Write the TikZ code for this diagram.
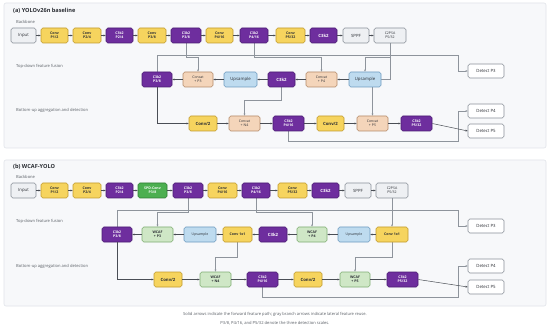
\documentclass[tikz,border=0pt]{standalone}
\usepackage{fontspec}
\setmainfont{Open Sans}
\usetikzlibrary{arrows.meta}
\pgfdeclarelayer{bg}
\pgfsetlayers{bg,main}
\definecolor{cpurp}{HTML}{6E2E9E}
\definecolor{cpurpd}{HTML}{4A1C72}
\definecolor{cyel}{HTML}{F6D45E}
\definecolor{cyeld}{HTML}{C29B2C}
\definecolor{cgray}{HTML}{EEF0F3}
\definecolor{cgrayd}{HTML}{8A9099}
\definecolor{cpeach}{HTML}{F4D5BA}
\definecolor{cpeachd}{HTML}{B48A68}
\definecolor{cblue}{HTML}{BEDBEF}
\definecolor{cblued}{HTML}{6E9CC0}
\definecolor{cwcaf}{HTML}{CFE7C6}
\definecolor{cwcafd}{HTML}{7FAE72}
\definecolor{cspd}{HTML}{4CAF50}
\definecolor{cspdd}{HTML}{2F7D33}
\definecolor{cpanel}{HTML}{F7F8FA}
\definecolor{cpaneld}{HTML}{E1E4E9}
\definecolor{cdark}{HTML}{4A4E55}
\definecolor{clat}{HTML}{8E949C}
\definecolor{ctext}{HTML}{2A2D33}
\definecolor{clabel}{HTML}{5A5F66}
\newcommand\smallf{\fontsize{3.5}{4.2}\selectfont}
\newcommand\bigf{\fontsize{4.3}{5}\selectfont}
\tikzset{
  box/.style={draw, rounded corners=1.8pt, line width=0.55pt, inner sep=0pt,
    minimum height=15pt, align=center, font=\smallf, text=ctext},
  mw/.style={minimum width=#1pt},
  one/.style={font=\bigf},
  bld/.style={execute at begin node=\bfseries},
  purp/.style={box, bld, fill=cpurp, draw=cpurpd, text=white},
  yel/.style={box, bld, fill=cyel, draw=cyeld, text=ctext},
  gbox/.style={box, fill=cgray, draw=cgrayd},
  peach/.style={box, fill=cpeach, draw=cpeachd},
  blue/.style={box, fill=cblue, draw=cblued},
  wcaf/.style={box, bld, fill=cwcaf, draw=cwcafd},
  spd/.style={box, bld, fill=cspd, draw=cspdd, text=white},
  det/.style={box, one, fill=white, draw=cgrayd, minimum height=14pt, minimum width=36pt},
  fwd/.style={draw=cdark, line width=0.5pt, -{Stealth[length=2.3pt,width=1.9pt]}},
  lat/.style={draw=clat, line width=0.5pt, -{Stealth[length=2.3pt,width=1.9pt]}},
  ptitle/.style={anchor=west, inner sep=0pt, font=\bfseries\fontsize{5.6}{6.5}\selectfont, text=ctext},
  rlabel/.style={anchor=west, inner sep=0pt, font=\fontsize{4.1}{5}\selectfont, text=clabel},
  captxt/.style={inner sep=0pt, font=\fontsize{4.1}{5}\selectfont, text=clabel}
}
\begin{document}
\begin{tikzpicture}[x=1pt,y=-1pt]
\useasboundingbox (0,0) rectangle (550,329);
\begin{pgfonlayer}{bg}
  \fill[white] (0,0) rectangle (550,329);
  \draw[fill=cpanel, draw=cpaneld, line width=0.6pt, rounded corners=2pt] (4,3) rectangle (546,148);
  \draw[fill=cpanel, draw=cpaneld, line width=0.6pt, rounded corners=2pt] (4,160) rectangle (546,306);
\end{pgfonlayer}

% ---------------- panel (a) ----------------
\node[ptitle] (tA) at (13,11) {(a) YOLOv26n baseline};
\node[rlabel] (bbA) at (16,22) {Backbone};
\node[rlabel] (tdA) at (16,66) {Top-down feature fusion};
\node[rlabel] (buA) at (16,110) {Bottom-up aggregation and detection};

\node[gbox, one, mw=25] (inA) at (23.5,35.5) {Input};
\node[yel, mw=27] (c1A) at (54.5,35.5) {Conv\\P1/2};
\node[yel, mw=28] (c2A) at (87,35.5) {Conv\\P2/4};
\node[purp, mw=27] (k1A) at (119.5,35.5) {C3k2\\P2/4};
\node[yel, mw=28] (c3A) at (152,35.5) {Conv\\P3/8};
\node[purp, mw=30] (k2A) at (186,35.5) {C3k2\\P3/8};
\node[yel, mw=27] (c4A) at (219.5,35.5) {Conv\\P4/16};
\node[purp, mw=28] (k3A) at (254,35.5) {C3k2\\P4/16};
\node[yel, mw=29] (c5A) at (290.5,35.5) {Conv\\P5/32};
\node[purp, one, mw=27] (k4A) at (323.5,35.5) {C3k2};
\node[gbox, one, mw=26] (spA) at (356,35.5) {SPPF};
\node[gbox, mw=32] (psA) at (390,35.5) {C2PSA\\P5/32};

\node[purp, mw=30] (k5A) at (157,79.5) {C3k2\\P3/8};
\node[peach, mw=30] (caP3) at (198,79.5) {Concat\\+ P3};
\node[blue, one, mw=33] (up1A) at (240.5,79.5) {Upsample};
\node[purp, one, mw=27] (k6A) at (281.5,79.5) {C3k2};
\node[peach, mw=31] (caP4) at (321.5,79.5) {Concat\\+ P4};
\node[blue, one, mw=32] (up2A) at (365,79.5) {Upsample};

\node[yel, one, mw=28] (cv1A) at (203,123.5) {Conv/2};
\node[peach, mw=31] (caN4) at (244.5,123.5) {Concat\\+ N4};
\node[purp, mw=31] (k7A) at (288.5,123.5) {C3k2\\P4/16};
\node[yel, one, mw=27] (cv2A) at (330.5,123.5) {Conv/2};
\node[peach, mw=31] (caP5) at (372.5,123.5) {Concat\\+ P5};
\node[purp, mw=31] (k8A) at (416.5,123.5) {C3k2\\P5/32};

\node[det] (dP3A) at (486,71) {Detect P3};
\node[det] (dP4A) at (486,111) {Detect P4};
\node[det] (dP5A) at (486,131) {Detect P5};

\foreach \a/\b in {inA/c1A,c1A/c2A,c2A/k1A,k1A/c3A,c3A/k2A,k2A/c4A,c4A/k3A,k3A/c5A,c5A/k4A,k4A/spA,spA/psA,
  up2A/caP4,caP4/k6A,k6A/up1A,up1A/caP3,caP3/k5A,
  cv1A/caN4,caN4/k7A,k7A/cv2A,cv2A/caP5,caP5/k8A}
  \draw[fwd] (\a) -- (\b);
\draw[fwd] (k5A.south) |- (cv1A.west);
\draw[fwd] (k8A.east) -- (dP5A.west);
\begin{pgfonlayer}{bg}
  \draw[lat] (k2A.south) -- (k2A.south |- 0,57) -| (caP3.north);
  \draw[lat] (k3A.south) -- (k3A.south |- 0,57) -| (caP4.north);
  \draw[lat] (psA.south) -- (psA.south |- 0,57) -| (up2A.north);
  \draw[lat] (psA.south) -- (psA.south |- 0,79) -| (caP5.north);
  \draw[lat] (k5A.north) |- (458,55) |- (dP3A.west);
  \draw[lat] (k6A.south) -- (k6A.south |- 0,100) -| (caN4.north);
  \draw[lat] (k7A.south) |- (458,141) |- (dP4A.west);
\end{pgfonlayer}

% ---------------- panel (b) ----------------
\node[ptitle] (tB) at (13,167) {(b) WCAF-YOLO};
\node[rlabel] (bbB) at (16,177) {Backbone};
\node[rlabel] (tdB) at (16,221) {Top-down feature fusion};
\node[rlabel] (buB) at (16,266) {Bottom-up aggregation and detection};

\node[gbox, one, mw=25] (inB) at (23.5,190.5) {Input};
\node[yel, mw=27] (c1B) at (54.5,190.5) {Conv\\P1/2};
\node[yel, mw=28] (c2B) at (87,190.5) {Conv\\P2/4};
\node[purp, mw=27] (k1B) at (119.5,190.5) {C3k2\\P2/4};
\node[spd, mw=29] (spdB) at (152.5,190.5) {SPD-Conv\\P3/8};
\node[purp, mw=30] (k2B) at (188,190.5) {C3k2\\P3/8};
\node[yel, mw=29] (c4B) at (222.5,190.5) {Conv\\P4/16};
\node[purp, mw=28] (k3B) at (256,190.5) {C3k2\\P4/16};
\node[yel, mw=29] (c5B) at (292.5,190.5) {Conv\\P5/32};
\node[purp, one, mw=27] (k4B) at (325.5,190.5) {C3k2};
\node[gbox, one, mw=26] (spB) at (358,190.5) {SPPF};
\node[gbox, mw=32] (psB) at (392,190.5) {C2PSA\\P5/32};

\node[purp, mw=30] (k5B) at (117,234.5) {C3k2\\P3/8};
\node[wcaf, mw=31] (wP3) at (157.5,234.5) {WCAF\\+ P3};
\node[blue, mw=32] (up1B) at (200,234.5) {Upsample};
\node[yel, mw=29] (cx1B) at (237.5,234.5) {Conv 1x1};
\node[purp, one, mw=28] (k6B) at (273,234.5) {C3k2};
\node[wcaf, mw=30] (wP4) at (312,234.5) {WCAF\\+ P4};
\node[blue, mw=32] (up2B) at (354,234.5) {Upsample};
\node[yel, mw=32] (cx2B) at (392,234.5) {Conv 1x1};

\node[yel, one, mw=28] (cv1B) at (168,279.5) {Conv/2};
\node[wcaf, mw=31] (wN4) at (215.5,279.5) {WCAF\\+ N4};
\node[purp, mw=31] (k7B) at (262.5,279.5) {C3k2\\P4/16};
\node[yel, one, mw=28] (cv2B) at (308,279.5) {Conv/2};
\node[wcaf, mw=30] (wP5) at (355,279.5) {WCAF\\+ P5};
\node[purp, mw=31] (k8B) at (402.5,279.5) {C3k2\\P5/32};

\node[det] (dP3B) at (486,226) {Detect P3};
\node[det] (dP4B) at (486,266) {Detect P4};
\node[det] (dP5B) at (486,287) {Detect P5};

\foreach \a/\b in {inB/c1B,c1B/c2B,c2B/k1B,k1B/spdB,spdB/k2B,k2B/c4B,c4B/k3B,k3B/c5B,c5B/k4B,k4B/spB,spB/psB,
  cx2B/up2B,up2B/wP4,wP4/k6B,k6B/cx1B,cx1B/up1B,up1B/wP3,wP3/k5B,
  cv1B/wN4,wN4/k7B,k7B/cv2B,cv2B/wP5,wP5/k8B}
  \draw[fwd] (\a) -- (\b);
\draw[fwd] (k5B.south) |- (cv1B.west);
\draw[fwd] (k8B.east) -- (dP5B.west);
\begin{pgfonlayer}{bg}
  \draw[lat] (k2B.south) -- (k2B.south |- 0,212) -| (wP3.north);
  \draw[lat] (k3B.south) -- (k3B.south |- 0,212) -| (wP4.north);
  \draw[lat] (psB.south) -- (cx2B.north);
  \draw[lat] (k5B.north) |- (458,210) |- (dP3B.west);
  \draw[lat] (cx1B.south) -- (cx1B.south |- 0,257) -| (wN4.north);
  \draw[lat] (cx2B.south) -- (cx2B.south |- 0,257) -| (wP5.north);
  \draw[lat] (k7B.south) |- (458,297) |- (dP4B.west);
\end{pgfonlayer}

% caption
\node[captxt] (cap1) at (275,314) {Solid arrows indicate the forward feature path; gray branch arrows indicate lateral feature reuse.};
\node[captxt] (cap2) at (275,323) {P3/8, P4/16, and P5/32 denote the three detection scales.};
\end{tikzpicture}
\end{document}
